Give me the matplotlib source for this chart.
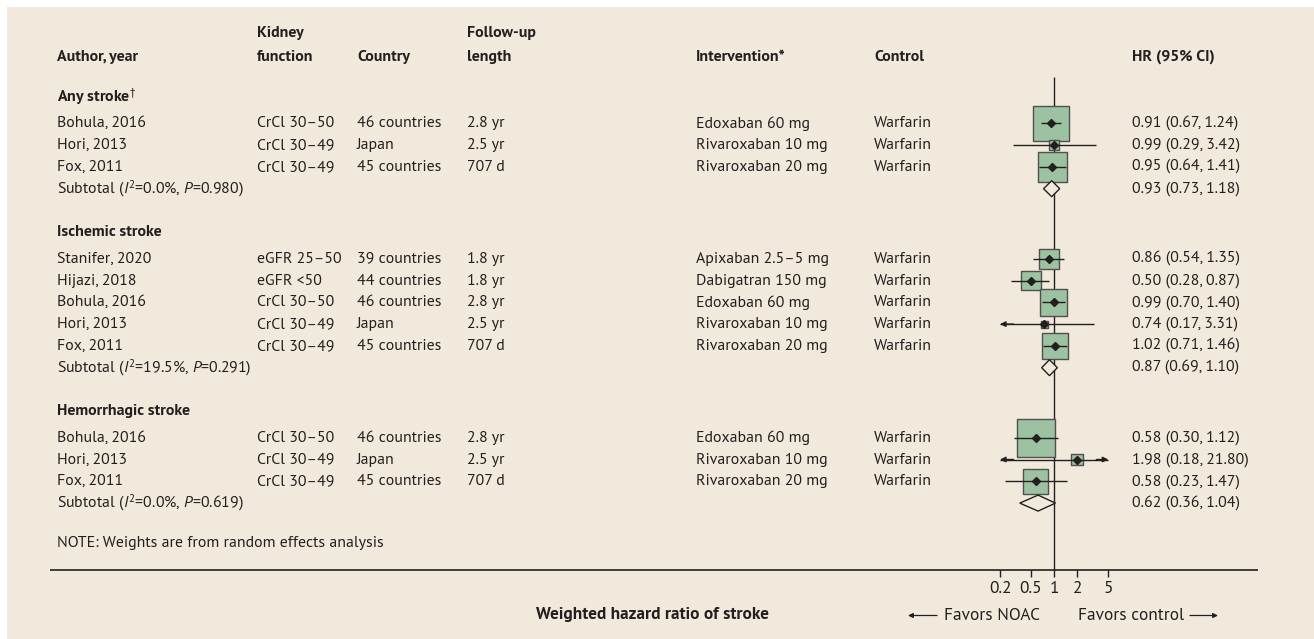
import numpy as np
import matplotlib.pyplot as plt
from matplotlib import font_manager as fm
from matplotlib.patches import Polygon, Rectangle
from matplotlib.ticker import FixedLocator, FixedFormatter, NullLocator

installed = {f.name for f in fm.fontManager.ttflist}
FONT = next(f for f in ['PT Sans', 'Open Sans'] if f in installed)
plt.rcParams['font.family'] = FONT
plt.rcParams['mathtext.fontset'] = 'custom'
plt.rcParams['mathtext.rm'] = FONT
plt.rcParams['mathtext.it'] = FONT + ':italic'
plt.rcParams['mathtext.bf'] = FONT + ':bold'

# study level data
groups = ['Any stroke$^{\\dagger}$', 'Ischemic stroke', 'Hemorrhagic stroke']
group_of = [0, 0, 0, 1, 1, 1, 1, 1, 2, 2, 2]
author = ['Bohula, 2016', 'Hori, 2013', 'Fox, 2011',
          'Stanifer, 2020', 'Hijazi, 2018', 'Bohula, 2016', 'Hori, 2013', 'Fox, 2011',
          'Bohula, 2016', 'Hori, 2013', 'Fox, 2011']
kidney = ['CrCl 30–50', 'CrCl 30–49', 'CrCl 30–49',
          'eGFR 25–50', 'eGFR <50', 'CrCl 30–50', 'CrCl 30–49', 'CrCl 30–49',
          'CrCl 30–50', 'CrCl 30–49', 'CrCl 30–49']
country = ['46 countries', 'Japan', '45 countries',
           '39 countries', '44 countries', '46 countries', 'Japan', '45 countries',
           '46 countries', 'Japan', '45 countries']
followup = ['2.8 yr', '2.5 yr', '707 d',
            '1.8 yr', '1.8 yr', '2.8 yr', '2.5 yr', '707 d',
            '2.8 yr', '2.5 yr', '707 d']
intervention = ['Edoxaban 60 mg', 'Rivaroxaban 10 mg', 'Rivaroxaban 20 mg',
                'Apixaban 2.5–5 mg', 'Dabigatran 150 mg', 'Edoxaban 60 mg',
                'Rivaroxaban 10 mg', 'Rivaroxaban 20 mg',
                'Edoxaban 60 mg', 'Rivaroxaban 10 mg', 'Rivaroxaban 20 mg']
control = ['Warfarin'] * 11
hr = [0.91, 0.99, 0.95, 0.86, 0.50, 0.99, 0.74, 1.02, 0.58, 1.98, 0.58]
ci_lo = [0.67, 0.29, 0.64, 0.54, 0.28, 0.70, 0.17, 0.71, 0.30, 0.18, 0.23]
ci_hi = [1.24, 3.42, 1.41, 1.35, 0.87, 1.40, 3.31, 1.46, 1.12, 21.80, 1.47]
weight = [57.0, 4.4, 38.6, 17.9, 17.0, 32.6, 2.2, 30.3, 65.0, 6.2, 28.8]

# pooled estimates per subgroup
sub_hr = [0.93, 0.87, 0.62]
sub_lo = [0.73, 0.69, 0.36]
sub_hi = [1.18, 1.10, 1.04]
sub_i2 = [0.0, 19.5, 0.0]
sub_p = [0.980, 0.291, 0.619]

hr_ticks = [0.2, 0.5, 1, 2, 5]
hr_tick_labels = ['0.2', '0.5', '1', '2', '5']

BG = '#F1E9DB'
INK = '#231F20'
GREEN = '#9CC2A1'
FS = 11.4
FS_AXIS = 12.4

W, H = 1314, 639
fig = plt.figure(figsize=(W / 100, H / 100), dpi=100)
fig.patch.set_facecolor('white')
ax = fig.add_axes([0, 0, 1, 1])
ax.set_xlim(0, W)
ax.set_ylim(H, 0)
ax.axis('off')
ax.add_patch(Rectangle((7, 7), W, H, fc=BG, ec='none', zorder=0))

col_x = [57, 257, 357, 467, 696, 874, 1132]


def put(x, y, s, bold=False, size=FS, **kw):
    ax.text(x, y, s, fontsize=size, fontweight='bold' if bold else 'normal',
            color=INK, va='center', **kw)


# header
put(col_x[0], 57, 'Author, year', True)
put(col_x[1], 33, 'Kidney', True)
put(col_x[1], 57, 'function', True)
put(col_x[2], 57, 'Country', True)
put(col_x[3], 33, 'Follow-up', True)
put(col_x[3], 57, 'length', True)
put(col_x[4], 57, 'Intervention*', True)
put(col_x[5], 57, 'Control', True)
put(col_x[6], 57, 'HR (95% CI)', True)

# row positions
step = 21.8
y = 123.3
study_y, head_y, sub_y = [], [], []
for g in range(len(groups)):
    head_y.append(y - 27)
    for gi in group_of:
        if gi == g:
            study_y.append(y)
            y += step
    sub_y.append(y)
    y += 70

# forest panel on a log axis
x0, x1 = 1000, 1108.3
axis_y = 570
fax = fig.add_axes([x0 / W, 0, (x1 - x0) / W, 1])
fax.set_xscale('log')
fax.set_xlim(0.2, 5)
fax.set_ylim(H, 0)
fax.patch.set_visible(False)
for s in ['top', 'left', 'right']:
    fax.spines[s].set_visible(False)
fax.spines['bottom'].set_position(('data', axis_y))
fax.spines['bottom'].set_color('none')
fax.set_yticks([])
fax.xaxis.set_major_locator(FixedLocator(hr_ticks))
fax.xaxis.set_major_formatter(FixedFormatter(hr_tick_labels))
fax.xaxis.set_minor_locator(NullLocator())
fax.tick_params(axis='x', length=4.8, width=1, color=INK, labelsize=FS_AXIS,
                labelcolor=INK, pad=3)

fax.vlines(1, 77, axis_y, color=INK, lw=1, zorder=1)
ax.hlines(axis_y, 50, 1258, color=INK, lw=1.2)

sides = 4.7 * np.sqrt(weight) * 0.72
fax.scatter(hr, study_y, s=sides ** 2, marker='s', fc=GREEN, ec='#505050',
            lw=1, zorder=2, clip_on=False)
arrow_kw = dict(arrowstyle='-|>', color=INK, lw=1, mutation_scale=8,
                shrinkA=0, shrinkB=0)
for i in range(len(hr)):
    yy = study_y[i]
    lo = max(ci_lo[i], 0.2)
    hi = min(ci_hi[i], 5)
    fax.hlines(yy, lo, hi, color=INK, lw=1, zorder=3, clip_on=False)
    if ci_lo[i] < 0.2:
        fax.annotate('', xy=(0.2, yy), xytext=(0.3, yy), arrowprops=arrow_kw, zorder=3)
    if ci_hi[i] > 5:
        fax.annotate('', xy=(5, yy), xytext=(3.5, yy), arrowprops=arrow_kw, zorder=3)
fax.plot(hr, study_y, 'D', color=INK, ms=4.5, zorder=4, clip_on=False)

for g in range(len(groups)):
    yy = sub_y[g]
    fax.add_patch(Polygon([(sub_lo[g], yy), (sub_hr[g], yy - 8),
                           (sub_hi[g], yy), (sub_hr[g], yy + 8)],
                          closed=True, fc=BG, ec=INK, lw=1, zorder=3))

# table text
cols = [author, kidney, country, followup, intervention, control]
for i in range(len(hr)):
    for c, vals in enumerate(cols):
        put(col_x[c], study_y[i], vals[i])
    put(col_x[6], study_y[i], f'{hr[i]:.2f} ({ci_lo[i]:.2f}, {ci_hi[i]:.2f})')

for g in range(len(groups)):
    put(col_x[0], head_y[g], groups[g], True)
    put(col_x[0], sub_y[g],
        f'Subtotal ($\\mathit{{I}}^{{\\mathrm{{2}}}}$={sub_i2[g]:.1f}%, '
        f'$\\mathit{{P}}$={sub_p[g]:.3f})')
    put(col_x[6], sub_y[g], f'{sub_hr[g]:.2f} ({sub_lo[g]:.2f}, {sub_hi[g]:.2f})')

put(col_x[0], sub_y[-1] + 40, 'NOTE: Weights are from random effects analysis')

# x axis captions
put(652, 615, 'Weighted hazard ratio of stroke', True, FS_AXIS, ha='center')
put(944, 615.5, 'Favors NOAC', size=FS_AXIS)
put(1078, 615.5, 'Favors control', size=FS_AXIS)
cap_kw = dict(arrowstyle='-|>', color=INK, lw=0.9, mutation_scale=7,
              shrinkA=0, shrinkB=0)
ax.annotate('', xy=(908, 615.5), xytext=(937, 615.5), arrowprops=cap_kw)
ax.annotate('', xy=(1218, 615.5), xytext=(1190, 615.5), arrowprops=cap_kw)

fig.savefig('out.png', dpi=100)
